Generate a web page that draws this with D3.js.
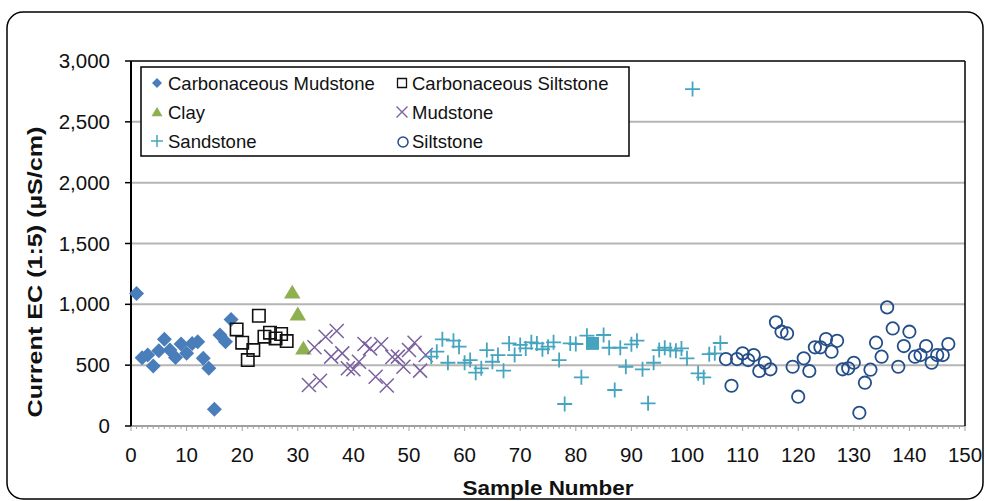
<!DOCTYPE html>
<html><head><meta charset="utf-8">
<script src="https://cdn.jsdelivr.net/npm/d3@7"></script>
<style>body{margin:0;background:#fff}svg{display:block}text{font-family:"Liberation Sans",Arial,sans-serif}</style>
</head><body><svg id="c" width="985" height="501"></svg>
<script>
// ---- data ----
const seriesNames = ["Carbonaceous Mudstone","Carbonaceous Siltstone","Clay","Mudstone","Sandstone","Siltstone"];
const carbMudX = [1,2,3,4,5,6,7,8,9,10,11,12,13,14,15,16,17,18];
const carbMudY = [1090,561,583,493,619,712,624,564,674,597,679,693,556,474,137,748,693,876];
const carbSiltX = [19,20,21,22,23,24,25,26,27,28];
const carbSiltY = [794,685,542,624,906,734,767,720,756,698];
const clayX = [29,30,31];
const clayY = [1100,920,640];
const mudX = [32,33,34,35,36,37,38,39,40,41,42,43,44,45,46,47,48,49,50,51,52,53];
const mudY = [337,647,372,734,570,781,597,474,466,528,674,638,405,672,333,567,570,487,624,685,455,583];
const sandX = [54,55,56,57,58,59,60,61,62,63,64,65,66,67,68,69,70,71,72,73,74,75,76,77,78,79,80,81,82,85,86,87,88,89,90,91,92,93,94,95,96,97,98,99,100,101,102,103,104,105,106];
const sandY = [570,611,712,520,701,652,520,542,438,474,624,528,583,455,679,583,666,638,688,679,631,652,688,542,181,679,674,400,742,748,643,296,643,487,671,701,466,186,520,624,643,624,619,638,556,2769,433,400,590,597,682];
const sandHighlightX = [83];
const sandHighlightY = [679];
const siltX = [107,108,109,110,111,112,113,114,115,116,117,118,119,120,121,122,123,124,125,126,127,128,129,130,131,132,133,134,135,136,137,138,139,140,141,142,143,144,145,146,147];
const siltY = [550,331,550,597,542,583,452,520,466,852,775,761,487,241,556,452,647,647,715,611,700,466,474,520,109,356,463,685,570,975,802,487,657,775,570,583,657,520,583,583,674];
const yTicks = [0,500,1000,1500,2000,2500,3000];
const xTicks = [0,10,20,30,40,50,60,70,80,90,100,110,120,130,140,150];

const cMud="#4A7EBB", cSilt="#111111", cClay="#8FB04F", cMudst="#7B619E", cSand="#45A5BF", cSiltst="#244E8A";

const svg = d3.select("#c");
const x = d3.scaleLinear().domain([0,150]).range([131,965]);
const y = d3.scaleLinear().domain([0,3000]).range([426,61]);

// outer frame
svg.append("rect").attr("x",7).attr("y",12).attr("width",976).attr("height",487).attr("rx",16)
  .attr("fill","#fff").attr("stroke","#000").attr("stroke-width",1.5);

// gridlines
svg.append("g").selectAll("line").data(yTicks.filter(v=>v>0&&v<3000)).join("line")
  .attr("x1",x(0)).attr("x2",x(150)).attr("y1",d=>y(d)).attr("y2",d=>y(d))
  .attr("stroke","#B5B5B5").attr("stroke-width",2);

// x axis (gray with minor ticks)
const xAxisG = svg.append("g").attr("transform",`translate(0,${y(0)})`);
xAxisG.append("line").attr("x1",x(0)).attr("x2",x(150)).attr("stroke","#A0A0A0").attr("stroke-width",2);
xAxisG.selectAll("line.minor").data(d3.range(0,151)).join("line").attr("class","minor")
  .attr("x1",d=>x(d)).attr("x2",d=>x(d)).attr("y1",0).attr("y2",d=>d%10===0?5:3)
  .attr("stroke","#A0A0A0").attr("stroke-width",1);
xAxisG.selectAll("text").data(xTicks).join("text")
  .attr("x",d=>x(d)).attr("y",36).attr("text-anchor","middle").attr("font-size",20.5).attr("fill","#111").text(d=>d);

// plot border top/right
svg.append("line").attr("x1",x(0)).attr("x2",x(150)).attr("y1",y(3000)).attr("y2",y(3000)).attr("stroke","#000").attr("stroke-width",1.5);
svg.append("line").attr("x1",x(150)).attr("x2",x(150)).attr("y1",y(3000)).attr("y2",y(0)).attr("stroke","#000").attr("stroke-width",1.5);

// y axis
const yAxisG = svg.append("g");
yAxisG.append("line").attr("x1",x(0)).attr("x2",x(0)).attr("y1",y(3000)).attr("y2",y(0)).attr("stroke","#000").attr("stroke-width",2);
yAxisG.selectAll("line.t").data(yTicks).join("line").attr("class","t")
  .attr("x1",x(0)-6).attr("x2",x(0)).attr("y1",d=>y(d)).attr("y2",d=>y(d)).attr("stroke","#000").attr("stroke-width",1.5);
yAxisG.selectAll("text").data(yTicks).join("text")
  .attr("x",110).attr("y",d=>y(d)+7).attr("text-anchor","end").attr("font-size",20.5).attr("fill","#111")
  .text(d=>d3.format(",")(d));

// axis titles
svg.append("text").attr("x",548).attr("y",495).attr("text-anchor","middle").attr("font-size",21).attr("font-weight","bold")
  .attr("textLength",171).attr("lengthAdjust","spacingAndGlyphs").attr("fill","#111").text("Sample Number");
svg.append("text").attr("transform","translate(42,272) rotate(-90)").attr("text-anchor","middle").attr("font-size",20).attr("font-weight","bold")
  .attr("textLength",291).attr("lengthAdjust","spacingAndGlyphs").attr("fill","#111").text("Current EC (1:5) (µS/cm)");

// marker path generators
const diamondP = s => `M0,${-s}L${s},0L0,${s}L${-s},0Z`;
const squareP = s => `M${-s},${-s}H${s}V${s}H${-s}Z`;
const triP = s => `M0,${-s}L${s*1.1},${s*0.85}L${-s*1.1},${s*0.85}Z`;
const xP = s => `M${-s},${-s}L${s},${s}M${s},${-s}L${-s},${s}`;
const plusP = s => `M${-s},0H${s}M0,${-s}V${s}`;

function drawSeries(xs, ys, path, style){
  const pts = xs.map((v,i)=>[v,ys[i]]);
  const g = svg.append("g");
  g.selectAll("path").data(pts).join("path")
    .attr("transform",d=>`translate(${x(d[0])},${y(d[1])})`).attr("d",path)
    .attr("fill",style.fill||"none").attr("stroke",style.stroke||"none").attr("stroke-width",style.sw||0);
}
drawSeries(carbMudX, carbMudY, diamondP(7.5), {fill:cMud});
drawSeries(carbSiltX, carbSiltY, squareP(6.2), {stroke:cSilt, sw:1.6, fill:"none"});
drawSeries(clayX, clayY, triP(7.5), {fill:cClay});
drawSeries(mudX, mudY, xP(7), {stroke:cMudst, sw:1.5});
drawSeries(sandX, sandY, plusP(7.5), {stroke:cSand, sw:1.8});
drawSeries(sandHighlightX, sandHighlightY, squareP(6.5), {fill:cSand});
// siltstone circles
svg.append("g").selectAll("circle").data(siltX.map((v,i)=>[v,siltY[i]])).join("circle")
  .attr("cx",d=>x(d[0])).attr("cy",d=>y(d[1])).attr("r",6.2).attr("fill","none").attr("stroke",cSiltst).attr("stroke-width",1.8);

// legend
const lg = svg.append("g");
lg.append("rect").attr("x",141).attr("y",67).attr("width",488).attr("height",89).attr("fill","#fff").attr("stroke","#000").attr("stroke-width",1.5);
const legendItems = [
  {name:seriesNames[0], col:0,row:0, d:diamondP(5), fill:cMud},
  {name:seriesNames[1], col:1,row:0, d:squareP(4.5), stroke:cSilt, sw:1.3},
  {name:seriesNames[2], col:0,row:1, d:triP(5), fill:cClay},
  {name:seriesNames[3], col:1,row:1, d:xP(5.5), stroke:cMudst, sw:1.4},
  {name:seriesNames[4], col:0,row:2, d:plusP(6), stroke:cSand, sw:1.5},
  {name:seriesNames[5], col:1,row:2, circle:true, stroke:cSiltst, sw:1.5}
];
legendItems.forEach(it=>{
  const mx = it.col===0?157:402, my = 83+it.row*29;
  if(it.circle){
    lg.append("circle").attr("cx",mx+1).attr("cy",my+1).attr("r",5).attr("fill","none").attr("stroke",it.stroke).attr("stroke-width",it.sw);
  } else {
    lg.append("path").attr("transform",`translate(${mx},${my})`).attr("d",it.d)
      .attr("fill",it.fill||"none").attr("stroke",it.stroke||"none").attr("stroke-width",it.sw||0);
  }
  lg.append("text").attr("x",it.col===0?168:412).attr("y",my+7).attr("font-size",18.5).attr("fill","#111").text(it.name);
});
</script></body></html>
